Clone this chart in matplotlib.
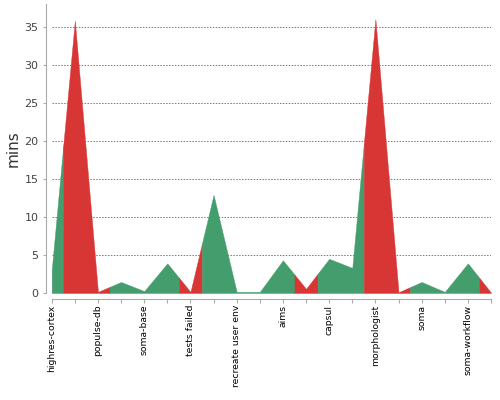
import numpy as np
import matplotlib
matplotlib.use("Agg")
import matplotlib.pyplot as plt

# 20 builds, only every other name is shown on the axis
labels = ["highres-cortex", "", "populse-db", "", "soma-base", "",
          "tests failed", "", "recreate user env", "", "aims", "",
          "capsul", "", "morphologist", "", "soma", "", "soma-workflow", ""]
mins = [3.0, 35.8, 0.15, 1.45, 0.25, 3.9, 0.15, 12.9, 0.15, 0.15,
        4.3, 0.55, 4.5, 3.3, 36.0, 0.1, 1.45, 0.15, 3.9, 0.05]
status = ["ok", "fail", "fail", "ok", "ok", "ok", "fail", "ok", "ok", "ok",
          "ok", "fail", "ok", "ok", "fail", "fail", "ok", "ok", "ok", "fail"]

colors = {"ok": "#449d6c", "fail": "#d83535"}

x = np.arange(len(mins))
y = np.array(mins)
n = len(x)

fig = plt.figure(figsize=(5, 4), dpi=100)
ax = fig.add_axes([0.1034, 0.2675, 0.8786, 0.7225])

# spines first: moving them resets the ticks
for s in ["top", "right"]:
    ax.spines[s].set_visible(False)
for s in ["left", "bottom"]:
    ax.spines[s].set_color("#aaaaaa")
    ax.spines[s].set_position(("outward", 4))

# group consecutive points of the same status, each point owns
# the span half way to its neighbours
start = 0
for i in range(1, n + 1):
    if i == n or status[i] != status[start]:
        x0 = max(start - 0.5, 0)
        x1 = min(i - 0.5, n - 1)
        xs = np.concatenate([[x0], x[start:i], [x1]])
        ys = np.interp(xs, x, y)
        ax.fill_between(xs, 0, ys, color=colors[status[start]],
                        edgecolor=colors[status[start]], linewidth=0.3)
        start = i

ax.set_xlim(0, n - 1)
ax.set_ylim(0, 38)
ax.set_yticks(range(0, 36, 5))
ax.set_xticks(x)
ax.set_xticklabels(labels, rotation=90, fontsize=6.7, color="black")
ax.tick_params(axis="y", labelsize=8, labelcolor="#444444", color="#aaaaaa",
               length=2.5, pad=3)
ax.tick_params(axis="x", color="#aaaaaa", length=3, pad=1.5)

ax.grid(axis="y", color="#777777", linestyle=(0, (1.5, 1.5)), linewidth=0.7)
ax.set_axisbelow(True)
ax.set_ylabel("mins", fontsize=11, color="#333333", labelpad=3)

fig.savefig("out.png", dpi=100)
